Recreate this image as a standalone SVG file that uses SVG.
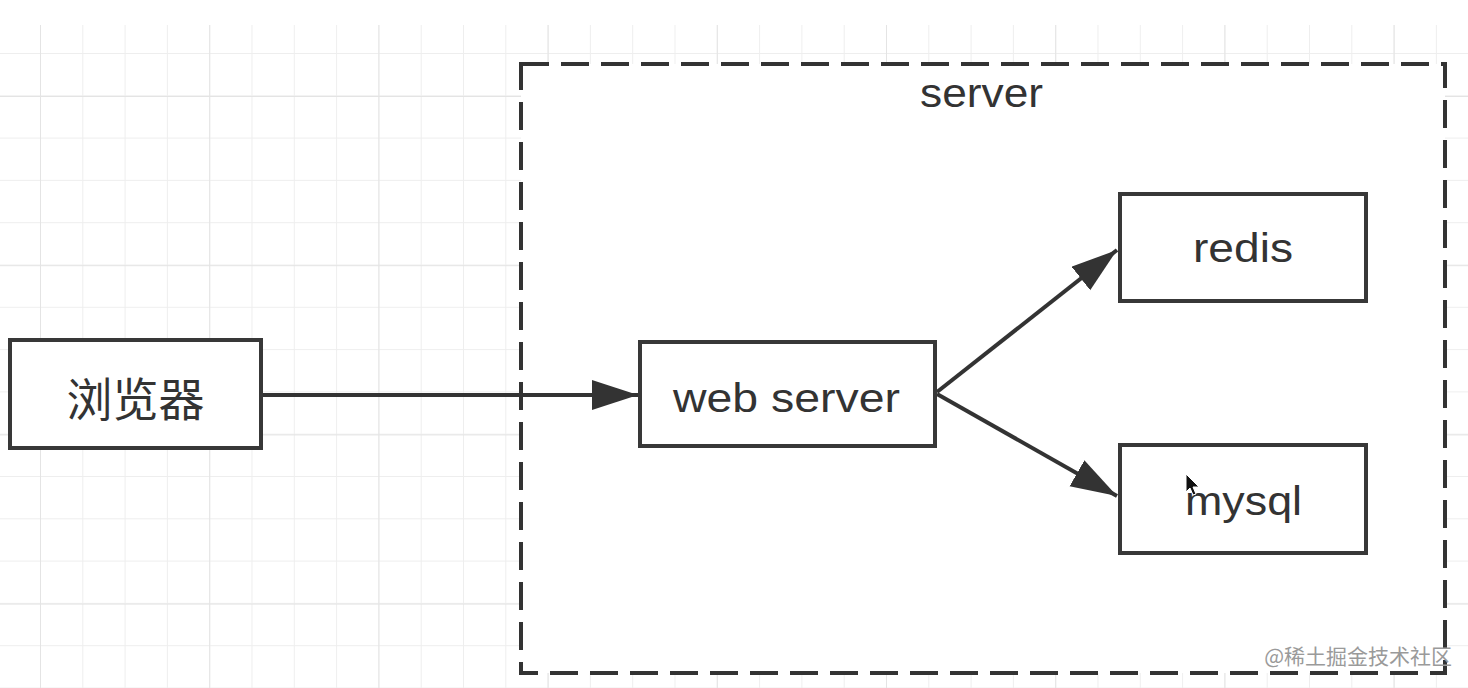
<svg xmlns="http://www.w3.org/2000/svg" width="1468" height="688" viewBox="0 0 1468 688">
  <defs>
    <pattern id="minor" patternUnits="userSpaceOnUse" x="40" y="53" width="42.3" height="42.3">
      <path d="M0 0V42.3M0 0H42.3" fill="none" stroke="#eeeeee" stroke-width="2"/>
    </pattern>
    <pattern id="major" patternUnits="userSpaceOnUse" x="40" y="96" width="169.2" height="169.2">
      <path d="M0 0V169.2M0 0H169.2" fill="none" stroke="#e4e4e4" stroke-width="2"/>
    </pattern>
    <marker id="arrow" markerUnits="userSpaceOnUse" markerWidth="48" markerHeight="32" refX="46" refY="15" orient="auto">
      <path d="M0 0L46 15L0 30Z" fill="#333"/>
    </marker>
    <style>
      .node rect { fill: #fff; stroke: #383838; stroke-width: 4; }
      .label { font-family: "Liberation Sans", Arial, sans-serif; font-size: 40px; fill: #333; text-anchor: middle; }
      .cjk { font-family: "Noto Sans CJK SC", "Noto Sans", sans-serif; font-size: 46px; fill: #333; text-anchor: middle; dominant-baseline: central; }
      .edge { fill: none; stroke: #333; stroke-width: 4; marker-end: url(#arrow); }
      .wm { font-family: "Noto Sans CJK SC", sans-serif; font-size: 21px; fill: #9a9a9a; text-anchor: end; }
    </style>
  </defs>

  <rect x="0" y="0" width="1468" height="688" fill="#fff"/>
  <g id="grid">
    <rect x="0" y="25" width="1468" height="663" fill="url(#minor)"/>
    <rect x="0" y="25" width="1468" height="663" fill="url(#major)"/>
  </g>

  <g id="server-group">
    <rect x="521" y="64" width="924" height="609" fill="#fff" stroke="#333" stroke-width="4" stroke-dasharray="28 12"/>
    <text class="label" x="981.5" y="107" textLength="123" lengthAdjust="spacingAndGlyphs">server</text>
  </g>

  <g id="connectors">
    <line class="edge" x1="263" y1="395" x2="638" y2="395"/>
    <line class="edge" x1="937" y1="392" x2="1117" y2="250"/>
    <line class="edge" x1="937" y1="394" x2="1117" y2="496"/>
  </g>

  <g id="browser" class="node">
    <rect x="10" y="340" width="251" height="108"/>
    <text class="cjk" x="135.5" y="396">浏览器</text>
  </g>

  <g id="web-server" class="node">
    <rect x="640" y="342" width="295" height="104"/>
    <text class="label" x="786.5" y="412" textLength="227" lengthAdjust="spacingAndGlyphs">web server</text>
  </g>

  <g id="redis" class="node">
    <rect x="1120" y="194" width="246" height="107"/>
    <text class="label" x="1243" y="262" textLength="100" lengthAdjust="spacingAndGlyphs">redis</text>
  </g>

  <g id="mysql" class="node">
    <rect x="1120" y="445" width="246" height="108"/>
    <text class="label" x="1243.5" y="515" textLength="117" lengthAdjust="spacingAndGlyphs">mysql</text>
  </g>

  <path id="cursor" d="M1186 474L1186 492L1190 488L1193 495L1196 494L1193 487L1199 487Z" fill="#111" stroke="#fff" stroke-width="1"/>

  <g id="watermark">
    <text class="wm" x="1452" y="664">@稀土掘金技术社区</text>
  </g>
</svg>
